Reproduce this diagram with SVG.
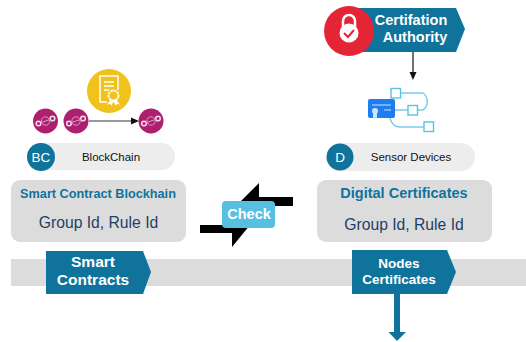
<svg xmlns="http://www.w3.org/2000/svg" width="526" height="342" viewBox="0 0 526 342">
<style>
text{font-family:"Liberation Sans",Arial,sans-serif}
.w{fill:#fff;font-weight:bold;text-anchor:middle}
.tag{fill:#0f739c}
.card{fill:#dcdcdc}
.pill{fill:#ededed}
.h{fill:#0f739c;font-weight:bold;text-anchor:middle}
.b{fill:#1f3f66;font-size:15.700px;text-anchor:middle}
.s{fill:#111;font-size:11.500px;text-anchor:middle}
.n{fill:#ad2070}
.g{fill:none;stroke:#f3dfeb;stroke-width:1.500}
.o{fill:#fff;stroke:#5cc0e4;stroke-width:1.400}
.l{fill:none;stroke:#7ccbea;stroke-width:1.400}
</style>
<defs>
<g id="chain"><circle r="12.500" class="n"/><circle cx="-7" cy="2.500" r="2.300" class="g"/><circle cx="7" cy="-2.500" r="2.300" class="g"/><circle r="4.200" fill="none" stroke="#d89bc0" stroke-width="1"/><path d="M-5 1.700L5-1.700" stroke="#d89bc0" stroke-width="1"/></g>
</defs>
<rect id="band" x="11" y="259" width="515" height="27" fill="#dcdcdc"/>
<g id="connectors">
<line x1="89" y1="121" x2="132" y2="121" stroke="#333" stroke-width="1"/>
<path d="M131 117.500L139 121L131 124.500Z" fill="#111"/>
<line x1="413" y1="52" x2="413" y2="74" stroke="#111" stroke-width="1.200"/>
<path d="M409.500 72L416.500 72L413 80Z" fill="#111"/>
<rect x="394" y="294" width="6" height="38" fill="#0f739c"/>
<path d="M388.500 332L406 332L397 341Z" fill="#0f739c"/>
</g>
<g id="node-cert-icon"><circle cx="109" cy="91" r="22" fill="#f1c21b"/>
<path d="M118 90V76H100V102H107" fill="none" stroke="#fff" stroke-width="1.500"/>
<path d="M104 82H114M104 86H114M104 90H109" stroke="#fff" stroke-width="1.300"/>
<circle cx="113.500" cy="95.500" r="5" fill="none" stroke="#fff" stroke-width="2" stroke-dasharray="2.500 .8"/><path d="M110.500 100L107 104.500L110 104L111.500 105.500L113.500 101.500L115.500 105.500L117 104L120 104.500L116.500 100Z" fill="#fff"/></g>
<g id="node-chain-1"><use href="#chain" x="45.500" y="121"/></g>
<g id="node-chain-2"><use href="#chain" x="76" y="121"/></g>
<g id="node-chain-3"><use href="#chain" x="151" y="121"/></g>
<g id="node-blockchain"><rect x="27" y="143" width="148" height="27" rx="13.500" class="pill"/><circle cx="41" cy="157" r="14" fill="#0f739c"/><text x="41" y="162" fill="#fff" font-size="13.500" text-anchor="middle">BC</text><text x="111" y="161" class="s">BlockChain</text></g>
<g id="node-smart-card"><rect x="11" y="180" width="175" height="62" rx="9" class="card"/><text x="98" y="198" class="h" font-size="12.700">Smart Contract Blockhain</text><text x="98.500" y="228" class="b">Group Id, Rule Id</text></g>
<g id="node-check"><path d="M293 197H259V183L236 206H293Z" fill="#000"/><path d="M200 225H250L232 247V233H200Z" fill="#000"/><rect x="222" y="201" width="53" height="27" rx="4" fill="#56bfe2"/><text x="249" y="219" class="w" font-size="14.500">Check</text></g>
<g id="node-smart-contracts"><path d="M46 251H143L151 272L143 294H46Z" class="tag"/><text x="93" y="267" class="w" font-size="15.500">Smart</text><text x="93" y="285" class="w" font-size="15.500">Contracts</text></g>
<g id="node-authority"><path d="M350 8H456L465 29L456 52H350Z" class="tag"/><circle cx="349" cy="31" r="25" fill="#e42535"/><path d="M343 26V21a6 6 0 0 1 12 0V26" fill="none" stroke="#fff" stroke-width="2.500"/><circle cx="349" cy="33" r="9.500" fill="#fff"/><path d="M344 33L348 37L354 30" fill="none" stroke="#e42535" stroke-width="2"/><text x="411" y="25" class="w" font-size="14.500">Certifation</text><text x="415" y="42" class="w" font-size="14.500">Authority</text></g>
<g id="node-devices"><path d="M400 93H423a10.500 10.500 0 0 1 0 17H417M395 110H408" class="l"/><path d="M390 118Q392 127 400 127H424" class="l"/><rect x="368" y="99" width="27" height="19" rx="2" fill="#1e7df0"/><path d="M372 105H391M384 110H391" stroke="#cfe4ff" stroke-width="1.200"/><circle cx="375" cy="111" r="3" fill="#cfe4ff"/><path d="M373 113V119L375 117.500L377 119V113Z" fill="#cfe4ff"/><rect x="391" y="88.500" width="9.500" height="9.500" class="o"/><rect x="408" y="105.500" width="9.500" height="9.500" class="o"/><rect x="424" y="122" width="9.500" height="9.500" class="o"/></g>
<g id="node-sensor"><rect x="327" y="143" width="148" height="28" rx="14" class="pill"/><circle cx="340" cy="157" r="13.500" fill="#0f739c"/><text x="340" y="162" fill="#fff" font-size="13.500" text-anchor="middle">D</text><text x="411" y="161" class="s">Sensor Devices</text></g>
<g id="node-digital-card"><rect x="317" y="180" width="175" height="62" rx="9" class="card"/><text x="404" y="198" class="h" font-size="14.500">Digital Certificates</text><text x="404" y="230" class="b">Group Id, Rule Id</text></g>
<g id="node-nodes-certs"><path d="M352 250H447L456 272L447 294H352Z" class="tag"/><text x="399" y="268" class="w" font-size="13.500">Nodes</text><text x="399" y="284" class="w" font-size="13.500">Certificates</text></g>
</svg>
